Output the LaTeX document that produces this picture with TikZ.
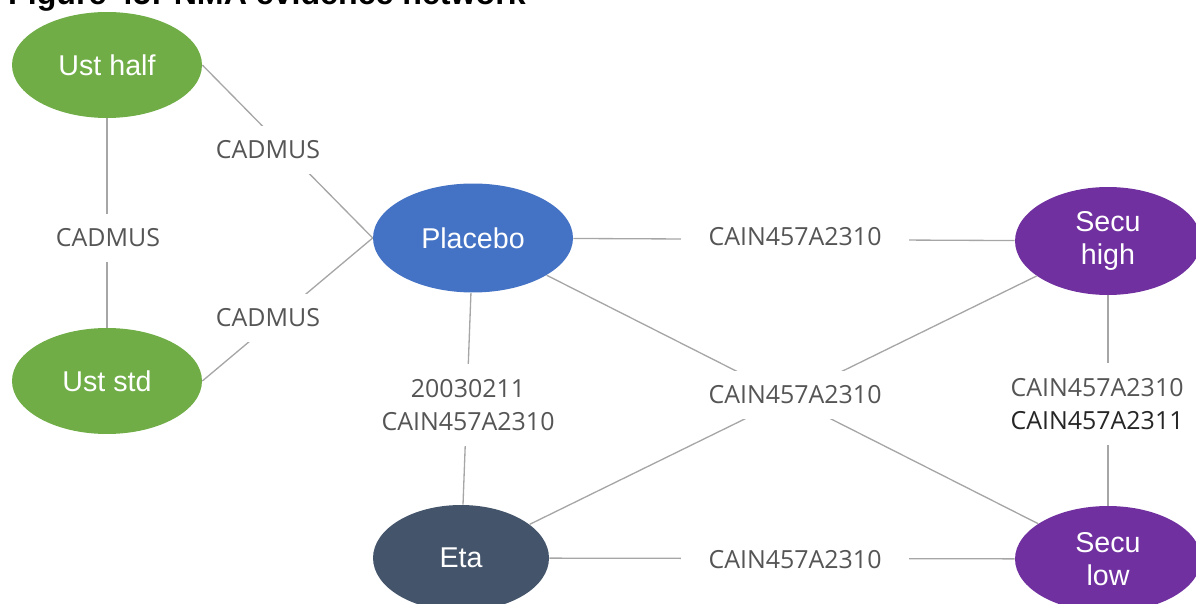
\documentclass[tikz,border=0pt]{standalone}
\usepackage{fontspec}
\setmainfont{Liberation Sans}
\newfontfamily\lblfont{Open Sans}
\usetikzlibrary{shapes.geometric}
\definecolor{ustgreen}{HTML}{70AD47}
\definecolor{plblue}{HTML}{4472C4}
\definecolor{secupurple}{HTML}{7030A0}
\definecolor{etaslate}{HTML}{44546A}
\definecolor{edgegray}{HTML}{A6A6A6}
\definecolor{lblgray}{HTML}{555555}
\begin{document}
\begin{tikzpicture}[x=0.02cm, y=-0.02cm,
  treat/.style={shape=ellipse, inner sep=0pt, text=white, align=center, font=\fontsize{16.3}{18.9}\selectfont},
  study/.style={fill=white, text=lblgray, inner xsep=0.55cm, inner ysep=0.3cm, align=center, font=\lblfont\fontsize{14.2}{18.7}\selectfont},
  link/.style={-, draw=edgegray, line width=0.75pt}]
\useasboundingbox (0,0) rectangle (1196,604);
\clip (0,0) rectangle (1196,604);
\node[anchor=base west, font=\bfseries\fontsize{18.3}{22}\selectfont] (title) at (2,5) {Figure 45: NMA evidence network};
% treatments
\node[treat, fill=ustgreen, minimum width=3.8cm, minimum height=2.12cm] (UstHalf) at (107,65) {Ust half};
\node[treat, fill=ustgreen, minimum width=3.8cm, minimum height=2.12cm] (UstStd) at (107,381) {Ust std};
\node[treat, fill=plblue, minimum width=4cm, minimum height=2.18cm] (Placebo) at (473,238) {Placebo};
\node[treat, fill=etaslate, minimum width=3.52cm, minimum height=2.12cm] (Eta) at (461,558) {Eta};
\node[treat, fill=secupurple, minimum width=3.72cm, minimum height=2.16cm] (SecuHigh) at (1108,241) {Secu\\high};
\node[treat, fill=secupurple, minimum width=3.72cm, minimum height=2.12cm] (SecuLow) at (1108,559) {Secu\\low};
% comparisons
\path [link] (UstHalf) edge (UstStd);
\path [link] (UstHalf.east) edge (Placebo.west);
\path [link] (UstStd.east) edge (Placebo.west);
\path [link] (Placebo) edge (SecuHigh);
\path [link] (Placebo) edge (Eta);
\path [link] (Placebo) edge (SecuLow);
\path [link] (Eta) edge (SecuHigh);
\path [link] (Eta) edge (SecuLow);
\path [link] (SecuHigh) edge (SecuLow);
% trial names
\node[study] (tUU) at (108,238) {CADMUS};
\node[study] (tUP) at (268,150) {CADMUS};
\node[study] (tSP) at (268,318) {CADMUS};
\node[study] (tPH) at (795,237) {CAIN457A2310};
\node[study] (tPE) at (468,405) {20030211\\CAIN457A2310};
\node[study] (tX) at (795,395) {CAIN457A2310};
\node[study] (tEL) at (795,560) {CAIN457A2310};
\node[study] (tHL) at (1097,404) {CAIN457A2310\\{\color{black!85}CAIN457A2311}};
\end{tikzpicture}
\end{document}
